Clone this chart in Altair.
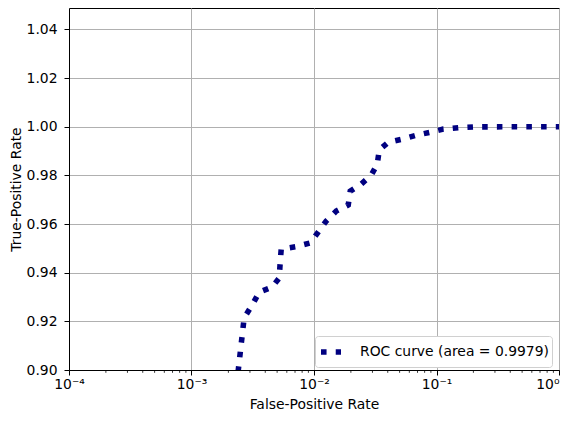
import altair as alt
import pandas as pd

# ROC curve vertices
fpr = [0.00240, 0.00269, 0.00313, 0.00357, 0.00455, 0.00520, 0.00530, 0.00540,
       0.00715, 0.00931, 0.01082, 0.01258, 0.01519, 0.01903, 0.01976, 0.02429,
       0.02933, 0.03283, 0.03409, 0.04038, 0.05255, 0.06839, 0.08901, 0.1137,
       0.1508, 0.1999, 1.0]
tpr = [0.8992, 0.9214, 0.9267, 0.9320, 0.9341, 0.9378, 0.9444, 0.9497,
       0.9507, 0.9522, 0.9567, 0.9612, 0.9653, 0.9678, 0.9735, 0.9764,
       0.9801, 0.9846, 0.9904, 0.9936, 0.9949, 0.9965, 0.9977, 0.9990,
       0.9996, 0.9999, 1.0]
series_label = "ROC curve (area = 0.9979)"

x_major = [1e-4, 1e-3, 1e-2, 1e-1, 1.0]
x_labels = ["10⁻⁴", "10⁻³", "10⁻²", "10⁻¹", "10⁰"]
x_minor = [m * d for d in [1e-4, 1e-3, 1e-2, 1e-1] for m in range(2, 10)]
y_ticks = [0.90, 0.92, 0.94, 0.96, 0.98, 1.00, 1.02, 1.04]

W, H = 490, 362
FONT = "DejaVu Sans"
FS = 13.9

df = pd.DataFrame({"fpr": fpr, "tpr": tpr, "label": [series_label] * len(fpr)})
df_minor = pd.DataFrame({"fpr": x_minor})

xscale = alt.Scale(type="log", domain=[1e-4, 1.0], nice=False)
yscale = alt.Scale(domain=[0.90, 1.04877], nice=False, zero=False)

label_expr = "[" + ",".join("'" + s + "'" for s in x_labels) + "][round(log(datum.value)/LN10)+4]"

x_axis = alt.Axis(
    values=x_major, labelExpr=label_expr, title="False-Positive Rate",
    tickSize=5, labelPadding=2, titlePadding=7, labelFlush=False,
    labelAlign=alt.condition("datum.value >= 1", alt.value("right"), alt.value("center")),
    labelOverlap=False, grid=True)

line = alt.Chart(df).mark_line(
    clip=True, strokeWidth=5.56, strokeDash=[5.56, 9.17], strokeCap="butt"
).encode(
    x=alt.X("fpr:Q", scale=xscale, axis=x_axis),
    y=alt.Y("tpr:Q", scale=yscale, axis=alt.Axis(
        values=y_ticks, format=".2f", title="True-Positive Rate",
        tickSize=5, labelPadding=7, titlePadding=3, grid=True)),
    color=alt.Color("label:N", scale=alt.Scale(range=["#000080"]),
                    legend=alt.Legend(
                        title=None, orient="none", legendX=246, legendY=328,
                        symbolType="stroke", symbolStrokeWidth=5.56,
                        symbolDash=[5.56, 9.17], symbolSize=400,
                        labelFont=FONT, labelFontSize=FS, labelColor="black",
                        labelLimit=0,
                        fillColor="white", strokeColor="#d0d0d0",
                        cornerRadius=3, padding=3, labelOffset=16)),
    order=alt.Order("fpr:Q"),
)

minor = alt.Chart(df_minor).mark_rule(color="black", strokeWidth=0.8).encode(
    x=alt.X("fpr:Q", scale=xscale, axis=x_axis),
    y=alt.value(H),
    y2=alt.value(H + 2.8),
)

chart = alt.layer(line, minor).properties(
    width=W, height=H,
    autosize=alt.AutoSizeParams(type="none"),
    padding={"left": 61, "top": 0, "right": 1, "bottom": 43},
).configure_view(
    stroke="black", strokeWidth=1
).configure_axis(
    labelFont=FONT, labelFontSize=FS, labelColor="black",
    titleFont=FONT, titleFontSize=FS, titleFontWeight="normal", titleColor="black",
    domainColor="black", domainWidth=1, tickColor="black", tickWidth=1,
    gridColor="#b0b0b0", gridWidth=1,
)

chart.save("out.html", embed_options={"renderer": "svg", "actions": False})
